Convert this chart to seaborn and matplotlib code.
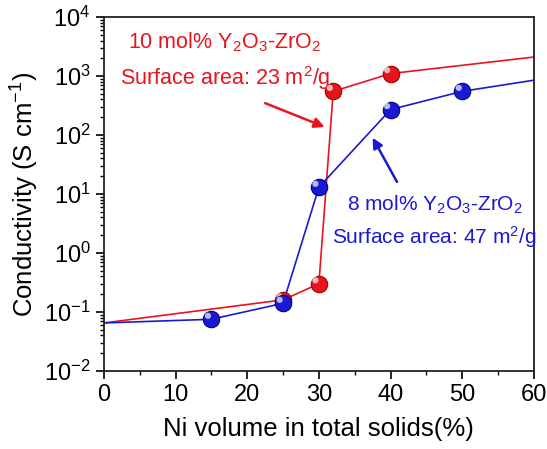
import matplotlib
matplotlib.use("Agg")
import matplotlib.pyplot as plt
import matplotlib.transforms as mtransforms
import matplotlib.ticker as mticker
import seaborn as sns

# Data
red_x = [0, 25, 30, 32, 40, 60]
red_y = [0.065, 0.16, 0.30, 550, 1100, 2100]
red_mx = [25, 30, 32, 40]
red_my = [0.16, 0.30, 550, 1100]

blue_x = [0, 15, 25, 30, 40, 50, 60]
blue_y = [0.065, 0.075, 0.14, 13, 270, 550, 850]
blue_mx = [15, 25, 30, 40, 50]
blue_my = [0.075, 0.14, 13, 270, 550]

x_ticks = [0, 10, 20, 30, 40, 50, 60]

sns.set_style("ticks")
plt.rcParams['font.family'] = ['Liberation Sans', 'DejaVu Sans']
plt.rcParams['mathtext.fontset'] = 'custom'
plt.rcParams['mathtext.rm'] = 'Liberation Sans'
plt.rcParams['mathtext.it'] = 'Liberation Sans'
plt.rcParams['text.color'] = 'black'
plt.rcParams['axes.labelcolor'] = 'black'
plt.rcParams['xtick.color'] = 'black'
plt.rcParams['ytick.color'] = 'black'

RED = '#e8141c'
BLUE = '#1a1ad6'

fig = plt.figure(figsize=(5.47, 4.49), dpi=100)
ax = fig.add_axes([0.190, 0.174, 0.786, 0.788])

sns.lineplot(x=red_x, y=red_y, ax=ax, color=RED, lw=1.2, sort=False)
sns.lineplot(x=blue_x, y=blue_y, ax=ax, color=BLUE, lw=1.2, sort=False)

def spheres(xs, ys, base, dark, z):
    sns.scatterplot(x=xs, y=ys, ax=ax, s=140, color=base, edgecolor=dark,
                    linewidth=0.8, zorder=z)
    off = mtransforms.offset_copy(ax.transData, fig=fig, x=-2.5, y=2.5, units='points')
    ax.scatter(xs, ys, s=20, color='white', alpha=0.7, edgecolors='none',
               transform=off, zorder=z + 0.1)

spheres(red_mx, red_my, RED, '#a00000', 3)
spheres(blue_mx, blue_my, BLUE, '#00007a', 4)

ax.set_yscale('log')
ax.set_xlim(0, 60)
ax.set_ylim(1e-2, 1e4)
ax.yaxis.set_major_locator(mticker.LogLocator(base=10, numticks=20))
ax.yaxis.set_minor_locator(mticker.LogLocator(base=10, subs=range(2, 10), numticks=20))
ax.yaxis.set_minor_formatter(mticker.NullFormatter())
ax.set_xticks(x_ticks)
ax.set_xticks([5, 15, 25, 35, 45, 55], minor=True)
ax.tick_params(axis='both', which='major', direction='out', length=6, width=1.2,
               labelsize=17)
ax.tick_params(axis='both', which='minor', direction='out', length=3, width=1.0)
for sp in ax.spines.values():
    sp.set_visible(True)
    sp.set_linewidth(1.3)
    sp.set_color('#222222')

ax.set_xlabel('Ni volume in total solids(%)', fontsize=18.5, labelpad=8)
ax.set_ylabel('Conductivity (S cm$^{-1}$)', fontsize=18.5, labelpad=2)

ax.text(0.056, 0.929, '10 mol% Y$_2$O$_3$-ZrO$_2$', transform=ax.transAxes,
        color=RED, fontsize=15.5, va='center')
ax.text(0.037, 0.828, 'Surface area: 23 m$^2$/g', transform=ax.transAxes,
        color=RED, fontsize=15.5, va='center')
ax.text(0.565, 0.469, '8 mol% Y$_2$O$_3$-ZrO$_2$', transform=ax.transAxes,
        color=BLUE, fontsize=15, va='center')
ax.text(0.53, 0.379, 'Surface area: 47 m$^2$/g', transform=ax.transAxes,
        color=BLUE, fontsize=15, va='center')

ax.annotate('', xy=(30.8, 137), xytext=(22.5, 347),
            arrowprops=dict(arrowstyle='-|>', color=RED, lw=1.8, mutation_scale=15,
                            shrinkA=0, shrinkB=0))
ax.annotate('', xy=(37.5, 90), xytext=(40.9, 16),
            arrowprops=dict(arrowstyle='-|>', color=BLUE, lw=1.8, mutation_scale=15,
                            shrinkA=0, shrinkB=0))

fig.savefig('out.png', dpi=100)
